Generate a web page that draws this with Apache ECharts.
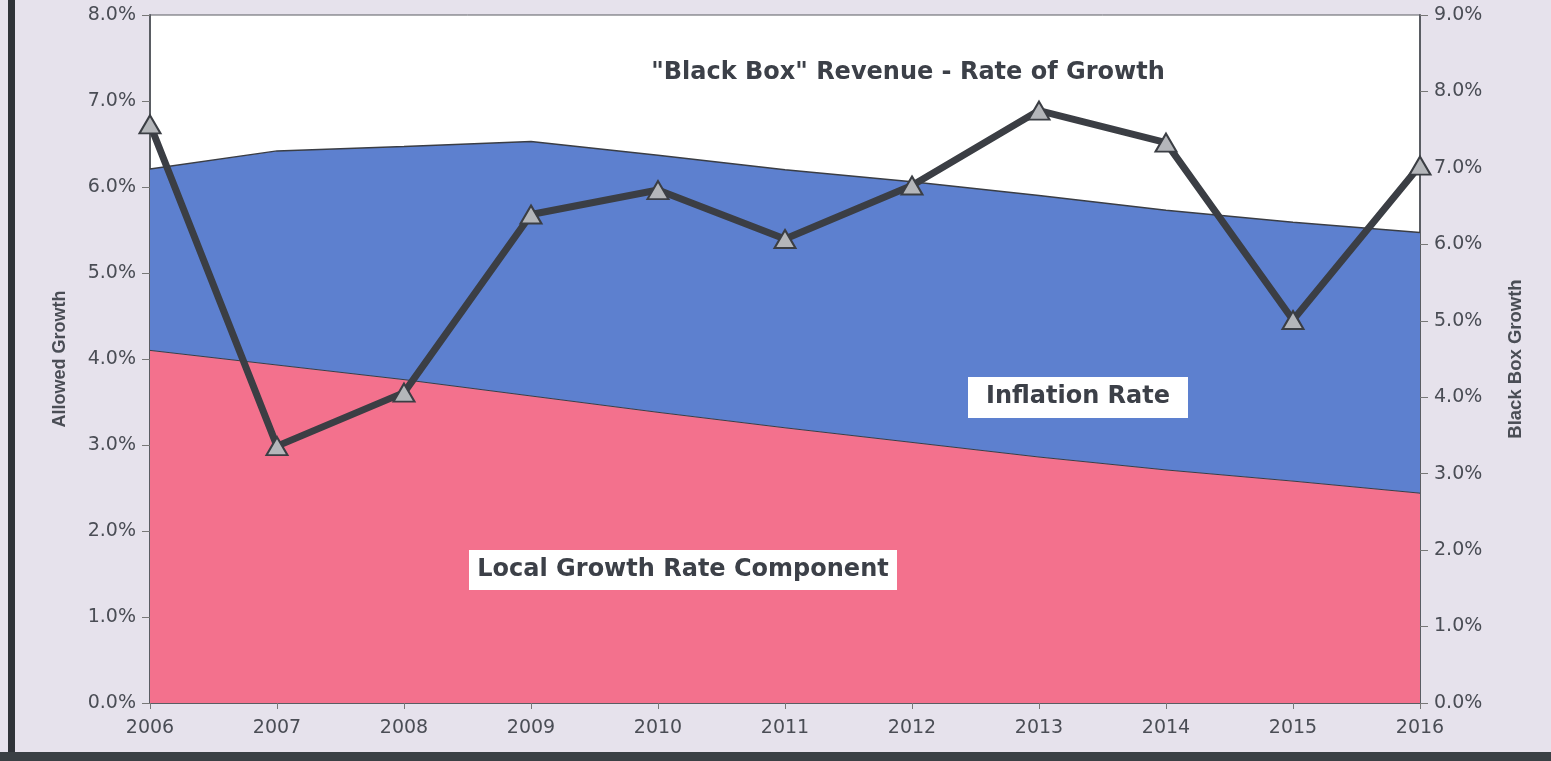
<!DOCTYPE html>
<html><head><meta charset="utf-8">
<script src="https://cdn.jsdelivr.net/npm/echarts@6/dist/echarts.min.js"></script>
<style>html,body{margin:0;padding:0;background:#e6e2ec;}#c{width:1551px;height:761px;}</style>
</head><body><div id="c"></div>
<script>
const years = ['2006','2007','2008','2009','2010','2011','2012','2013','2014','2015','2016'];
const localGrowth = [4.10, 3.93, 3.76, 3.57, 3.38, 3.20, 3.03, 2.86, 2.71, 2.58, 2.44];
const inflation = [2.11, 2.49, 2.71, 2.96, 2.99, 3.00, 3.03, 3.04, 3.02, 3.01, 3.03];
const blackBox = [7.57, 3.36, 4.06, 6.39, 6.71, 6.07, 6.77, 7.75, 7.33, 5.01, 7.03];
const leftTicks = {min:0, max:8, interval:1};
const rightTicks = {min:0, max:9, interval:1};

const chart = echarts.init(document.getElementById('c'));
const txt = '#4a4d55';
const lblFont = 'DejaVu Sans, Liberation Sans, Arial';
chart.setOption({
  backgroundColor: '#e6e2ec',
  animation: false,
  grid: {left:150, right:131, top:15, bottom:58, show:true, backgroundColor:'#ffffff', borderColor:'#5a5d63', borderWidth:1},
  xAxis: {type:'category', data:years, boundaryGap:false,
    axisLine:{lineStyle:{color:'#5a5d63', width:2}},
    axisTick:{show:true, length:6, lineStyle:{color:'#777'}},
    axisLabel:{color:txt, fontSize:19, fontFamily:lblFont, margin:16},
    splitLine:{show:false}},
  yAxis: [
    {type:'value', min:leftTicks.min, max:leftTicks.max, interval:leftTicks.interval,
     name:'Allowed Growth', nameLocation:'middle', nameGap:81, nameRotate:90,
     nameTextStyle:{color:txt, fontSize:18, fontWeight:'bold', fontFamily:'Liberation Sans, Arial'},
     axisLine:{show:true, lineStyle:{color:'#5a5d63', width:2}},
     axisTick:{show:true, length:8, lineStyle:{color:'#777'}},
     axisLabel:{color:txt, fontSize:19, fontFamily:lblFont, margin:14, formatter:v=>v.toFixed(1)+'%'},
     splitLine:{show:false}},
    {type:'value', min:rightTicks.min, max:rightTicks.max, interval:rightTicks.interval,
     name:'Black Box Growth', nameLocation:'middle', nameGap:86, nameRotate:90,
     nameTextStyle:{color:txt, fontSize:18.5, fontWeight:'bold', fontFamily:'Liberation Sans, Arial'},
     axisLine:{show:true, lineStyle:{color:'#5a5d63', width:2}},
     axisTick:{show:true, length:8, lineStyle:{color:'#777'}},
     axisLabel:{color:txt, fontSize:19, fontFamily:lblFont, margin:14, formatter:v=>v.toFixed(1)+'%'},
     splitLine:{show:false}}
  ],
  series: [
    {name:'Local Growth Rate Component', type:'line', stack:'a', data:localGrowth, symbol:'none',
     lineStyle:{color:'#3a3d44', width:1}, areaStyle:{color:'#f3718d', opacity:1}, z:1},
    {name:'Inflation Rate', type:'line', stack:'a', data:inflation, symbol:'none',
     lineStyle:{color:'#3a3d44', width:1.5}, areaStyle:{color:'#5d80cf', opacity:1}, z:1},
    {name:'Black Box', type:'line', yAxisIndex:1, data:blackBox, symbol:'triangle', symbolSize:[21,18],
     lineStyle:{color:'#3b3e44', width:7}, itemStyle:{color:'#b4b6ba', borderColor:'#3b3e44', borderWidth:2}, z:5}
  ],
  graphic: [
    {type:'rect', left:8, top:0, shape:{width:7, height:761}, style:{fill:'#2f3338'}},
    {type:'rect', left:0, top:752, shape:{width:1551, height:9}, style:{fill:'#3a4044'}},
    {type:'text', x:908, y:73, style:{text:'"Black Box" Revenue - Rate of Growth', fill:'#3c4048', font:'bold 24px DejaVu Sans, Liberation Sans, Arial', textAlign:'center', textVerticalAlign:'middle'}, z:10},
    {type:'rect', left:968, top:377, shape:{width:220, height:41}, style:{fill:'#ffffff'}, z:10},
    {type:'text', x:1078, y:397, style:{text:'Inflation Rate', fill:'#3c4048', font:'bold 24px DejaVu Sans, Liberation Sans, Arial', textAlign:'center', textVerticalAlign:'middle'}, z:11},
    {type:'rect', left:469, top:550, shape:{width:428, height:40}, style:{fill:'#ffffff'}, z:10},
    {type:'text', x:683, y:570, style:{text:'Local Growth Rate Component', fill:'#3c4048', font:'bold 24px DejaVu Sans, Liberation Sans, Arial', textAlign:'center', textVerticalAlign:'middle'}, z:11}
  ]
});
</script></body></html>
